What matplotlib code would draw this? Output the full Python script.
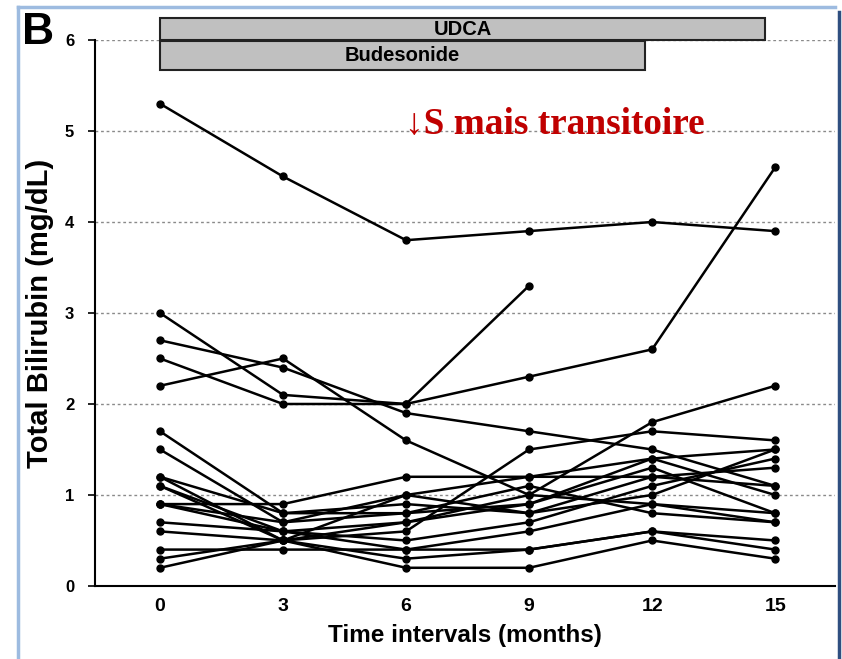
import matplotlib.pyplot as plt
import numpy as np
from matplotlib.patches import Rectangle
from matplotlib.lines import Line2D

# time points (months)
months = [0, 3, 6, 9, 12, 15]

# total bilirubin per patient (mg/dL), nan = no measurement
patients = [
    [5.3, 4.5, 3.8, 3.9, 4.0, 3.9],
    [3.0, 2.1, 2.0, 3.3, np.nan, np.nan],
    [2.5, 2.0, 2.0, 2.3, 2.6, 4.6],
    [2.7, 2.4, 1.9, 1.7, 1.5, 1.1],
    [2.2, 2.5, 1.6, 1.0, 1.8, 2.2],
    [1.7, 0.8, 0.9, 0.8, 1.2, 1.3],
    [1.5, 0.7, 0.8, 0.9, 1.3, 0.8],
    [1.2, 0.5, 0.6, 1.5, 1.7, 1.6],
    [1.1, 0.5, 1.0, 1.2, 1.4, 1.0],
    [0.9, 0.9, 1.2, 1.2, 1.2, 1.1],
    [0.9, 0.7, 1.0, 0.8, 1.0, 1.5],
    [0.9, 0.6, 0.5, 0.7, 1.1, 1.4],
    [0.7, 0.6, 0.4, 0.6, 0.9, 0.7],
    [0.6, 0.5, 0.3, 0.4, 0.6, 0.5],
    [0.2, 0.5, 0.2, 0.2, 0.5, 0.3],
    [0.3, 0.5, 0.7, 0.9, 1.4, 1.5],
    [0.4, 0.4, 0.4, 0.4, 0.6, 0.4],
    [1.2, 0.8, 0.8, 1.1, 0.8, 0.7],
    [1.1, 0.6, 0.7, 1.0, 0.9, 0.8],
]

# treatment periods (start, end in months)
treatments = ['UDCA', 'Budesonide']
treat_start = [0, 0]
treat_end = [14.76, 11.83]

yticks = [0, 1, 2, 3, 4, 5, 6]

fig = plt.figure(figsize=(8.42, 6.59), dpi=100)
ax = fig.add_axes([0.1128, 0.1108, 0.8789, 0.8285])

for p in patients:
    ax.plot(months, p, color='black', lw=1.8, marker='o', ms=5, zorder=3)

ax.set_xlim(-1.585, 16.46)
ax.set_ylim(0, 6)
ax.set_xticks(months)
ax.set_yticks(yticks)
for y in yticks[1:]:
    ax.axhline(y, color='#8a8a8a', lw=1, ls=(0, (2, 2)), zorder=1)

ax.spines['top'].set_visible(False)
ax.spines['right'].set_visible(False)
ax.spines['left'].set_linewidth(1.5)
ax.spines['bottom'].set_linewidth(1.5)
ax.tick_params(axis='x', length=0, pad=9)
ax.tick_params(axis='y', length=5, width=1.2, pad=10)
for lab in ax.get_xticklabels() + ax.get_yticklabels():
    lab.set_fontweight('bold')
    lab.set_fontfamily('Liberation Sans')
for lab in ax.get_xticklabels():
    lab.set_fontsize(14)
for lab in ax.get_yticklabels():
    lab.set_fontsize(12)

ax.set_xlabel('Time intervals (months)', fontsize=17.5, fontweight='bold',
              family='Liberation Sans', labelpad=6)
ax.set_ylabel('Total Bilirubin (mg/dL)', fontsize=21, fontweight='bold',
              family='Liberation Sans', labelpad=8)

# treatment bars above the plot
bar_y = [6.0, 5.67]
bar_h = [0.24, 0.32]
for name, s, e, y0, h in zip(treatments, treat_start, treat_end, bar_y, bar_h):
    ax.add_patch(Rectangle((s, y0), e - s, h, facecolor='#c0c0c0',
                           edgecolor='#222222', lw=1.5, clip_on=False, zorder=4))
    ax.text((s + e) / 2, y0 + h / 2, name, ha='center', va='center',
            fontsize=14.5, fontweight='bold', family='Liberation Sans', zorder=5)

ax.text(5.98, 5.07, '↓S mais transitoire', color='#c00000', fontsize=26.8,
        fontweight='bold', family=['Liberation Serif', 'DejaVu Serif'],
        ha='left', va='center')

fig.text(0.026, 0.950, 'B', fontsize=32, fontweight='bold',
         family='Liberation Sans', ha='left', va='center')

# slide frame
fig.add_artist(Line2D([0.021, 0.021], [0, 0.989], color='#9dbbe0', lw=2.5))
fig.add_artist(Line2D([0.021, 0.992], [0.989, 0.989], color='#9dbbe0', lw=2.5))
fig.add_artist(Line2D([0.996, 0.996], [0, 0.982], color='#2f4f80', lw=2.5))

fig.savefig('out.png', dpi=100)
